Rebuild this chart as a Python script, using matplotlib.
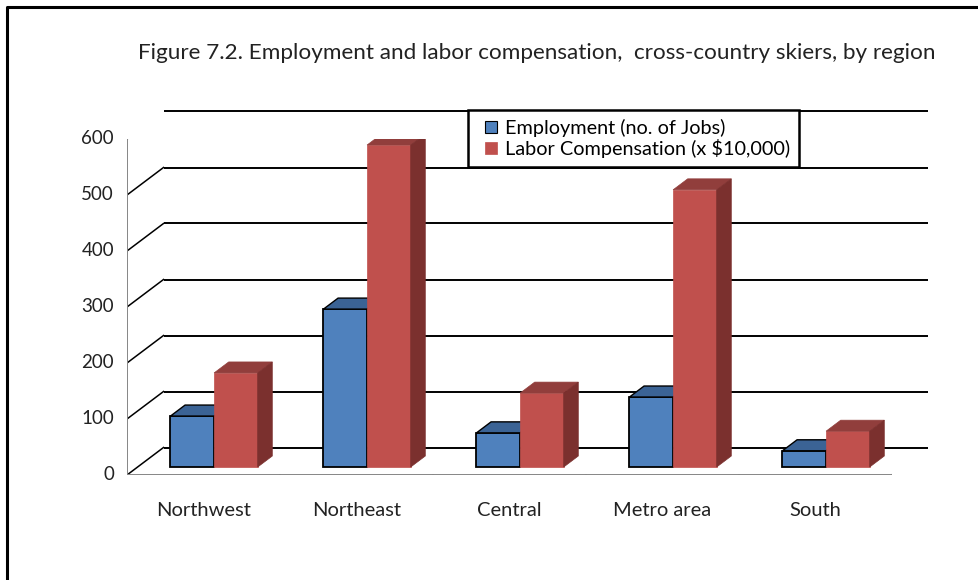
import numpy as np
import matplotlib
matplotlib.use('Agg')
from matplotlib import pyplot as plt
from matplotlib.patches import Polygon
from matplotlib.lines import Line2D
from matplotlib.transforms import IdentityTransform, offset_copy

plt.rcParams['font.family'] = ['Lato', 'DejaVu Sans']

# values
regions = ['Northwest', 'Northeast', 'Central', 'Metro area', 'South']
employment = [91, 282, 61, 125, 29]
compensation = [168, 575, 132, 495, 64]
yticks = [0, 100, 200, 300, 400, 500, 600]
title = 'Figure 7.2. Employment and labor compensation,  cross-country skiers, by region'
labels = ['Employment (no. of Jobs)', 'Labor Compensation (x $10,000)']

blue, blue_top = '#4F81BD', '#3B6395'
red, red_top, red_side = '#C0504D', '#913E3C', '#7B302E'
gray = '#868686'

W, H = 979, 580
depth = np.array([36.5, 27.5])   # full depth of the box, in pixels
d1, d2 = 0.29, 0.69              # front and back of the bars
barw = 0.285


def main():
    fig = plt.figure(figsize=(W/100, H/100), dpi=100)
    ax = fig.add_axes([127/W, (H - 475)/H, 765/W, 336/H])
    ax.set_xlim(0, len(regions))
    ax.set_ylim(0, yticks[-1])
    ax.axis('off')
    ident = IdentityTransform()

    def pt(x, v, t):
        X, Y = ax.transData.transform((x, v))
        return X + depth[0]*t, Y + depth[1]*t

    def shifted(t):
        return offset_copy(ax.transData, fig=fig, x=depth[0]*t, y=depth[1]*t, units='dots')

    # back wall gridlines and left wall diagonals
    ax.hlines(yticks, 0, len(regions), color='k', lw=1.4, transform=shifted(1), clip_on=False, zorder=1)
    for v in yticks:
        p0, p1 = pt(0, v, 0), pt(0, v, 1)
        ax.add_line(Line2D([p0[0], p1[0]], [p0[1], p1[1]], color='k', lw=1.1, transform=ident, zorder=1))
    # floor
    p0, p1, p2 = pt(0, 0, 0), pt(len(regions), 0, 0), pt(len(regions), 0, 1)
    ax.add_line(Line2D([p0[0], p1[0], p2[0]], [p0[1], p1[1], p2[1]], color=gray, lw=1.4, transform=ident, zorder=1))
    # front value axis
    ax.add_line(Line2D([p0[0], p0[0]], [p0[1], pt(0, yticks[-1], 0)[1]], color=gray, lw=1.4, transform=ident, zorder=1))
    for v in yticks:
        X, Y = pt(0, v, 0)
        ax.add_line(Line2D([X - 6, X], [Y, Y], color=gray, lw=1.4, transform=ident, zorder=1))
        ax.text(0, v, str(v), ha='right', va='center', fontsize=13.5, color='#222222',
                transform=offset_copy(ax.transData, fig=fig, x=-13, y=0, units='dots'))
    for i in range(len(regions) + 1):
        X, Y = pt(i, 0, 0)
        ax.add_line(Line2D([X, X], [Y, Y - 7], color=gray, lw=1.4, transform=ident, zorder=1))
    for i, name in enumerate(regions):
        ax.text(i + 0.5, 0, name, ha='center', va='center', fontsize=14.5, color='#222222',
                transform=offset_copy(ax.transData, fig=fig, x=0, y=-36, units='dots'))

    # bars: front faces through ax.bar, tops and sides as polygons
    x = np.arange(len(regions)) + 0.5
    xb, xr = x - barw/2, x + barw/2
    ax.bar(xb, employment, barw, color=blue, edgecolor='k', lw=1.3, transform=shifted(d1), zorder=3, clip_on=False)
    ax.bar(xr, compensation, barw, color=red, edgecolor=red, lw=0.5, transform=shifted(d1), zorder=5, clip_on=False)
    for i in range(len(regions)):
        x0, x1, h = xb[i] - barw/2, xb[i] + barw/2, employment[i]
        top = [pt(x0, h, d1), pt(x1, h, d1), pt(x1, h, d2), pt(x0, h, d2)]
        ax.add_patch(Polygon(top, closed=True, fc=blue_top, ec='k', lw=1.0, transform=ident, zorder=4))
        x0, x1, h = xr[i] - barw/2, xr[i] + barw/2, compensation[i]
        top = [pt(x0, h, d1), pt(x1, h, d1), pt(x1, h, d2), pt(x0, h, d2)]
        side = [pt(x1, 0, d1), pt(x1, h, d1), pt(x1, h, d2), pt(x1, 0, d2)]
        ax.add_patch(Polygon(top, closed=True, fc=red_top, ec=red_top, lw=0.5, transform=ident, zorder=6))
        ax.add_patch(Polygon(side, closed=True, fc=red_side, ec=red_side, lw=0.5, transform=ident, zorder=6))

    handles = [Line2D([], [], ls='none', marker='s', markersize=8, mfc=blue, mec='k', mew=0.8),
               Line2D([], [], ls='none', marker='s', markersize=8, mfc=red, mec=red, mew=0.5)]
    leg = fig.legend(handles, labels, loc='upper left', bbox_to_anchor=(468/W, 1 - 110/H),
                     fontsize=14.3, frameon=True, fancybox=False, edgecolor='k', framealpha=1,
                     handlelength=1.4, handletextpad=0.0, labelspacing=0.1,
                     borderpad=0.45, borderaxespad=0)
    leg.get_frame().set_linewidth(1.8)
    leg.set_zorder(10)

    fig.text(537/W, 1 - 53/H, title, ha='center', va='center', fontsize=16.2, color='#222222')

    # outer frame of the chart area
    fig.add_artist(Line2D([6.5, 6.5, W + 5], [-5, H - 6.5, H - 6.5], color='k', lw=2.2, transform=ident))

    fig.savefig('out.png', dpi=100)
    plt.close(fig)


if __name__ == '__main__':

    main()
